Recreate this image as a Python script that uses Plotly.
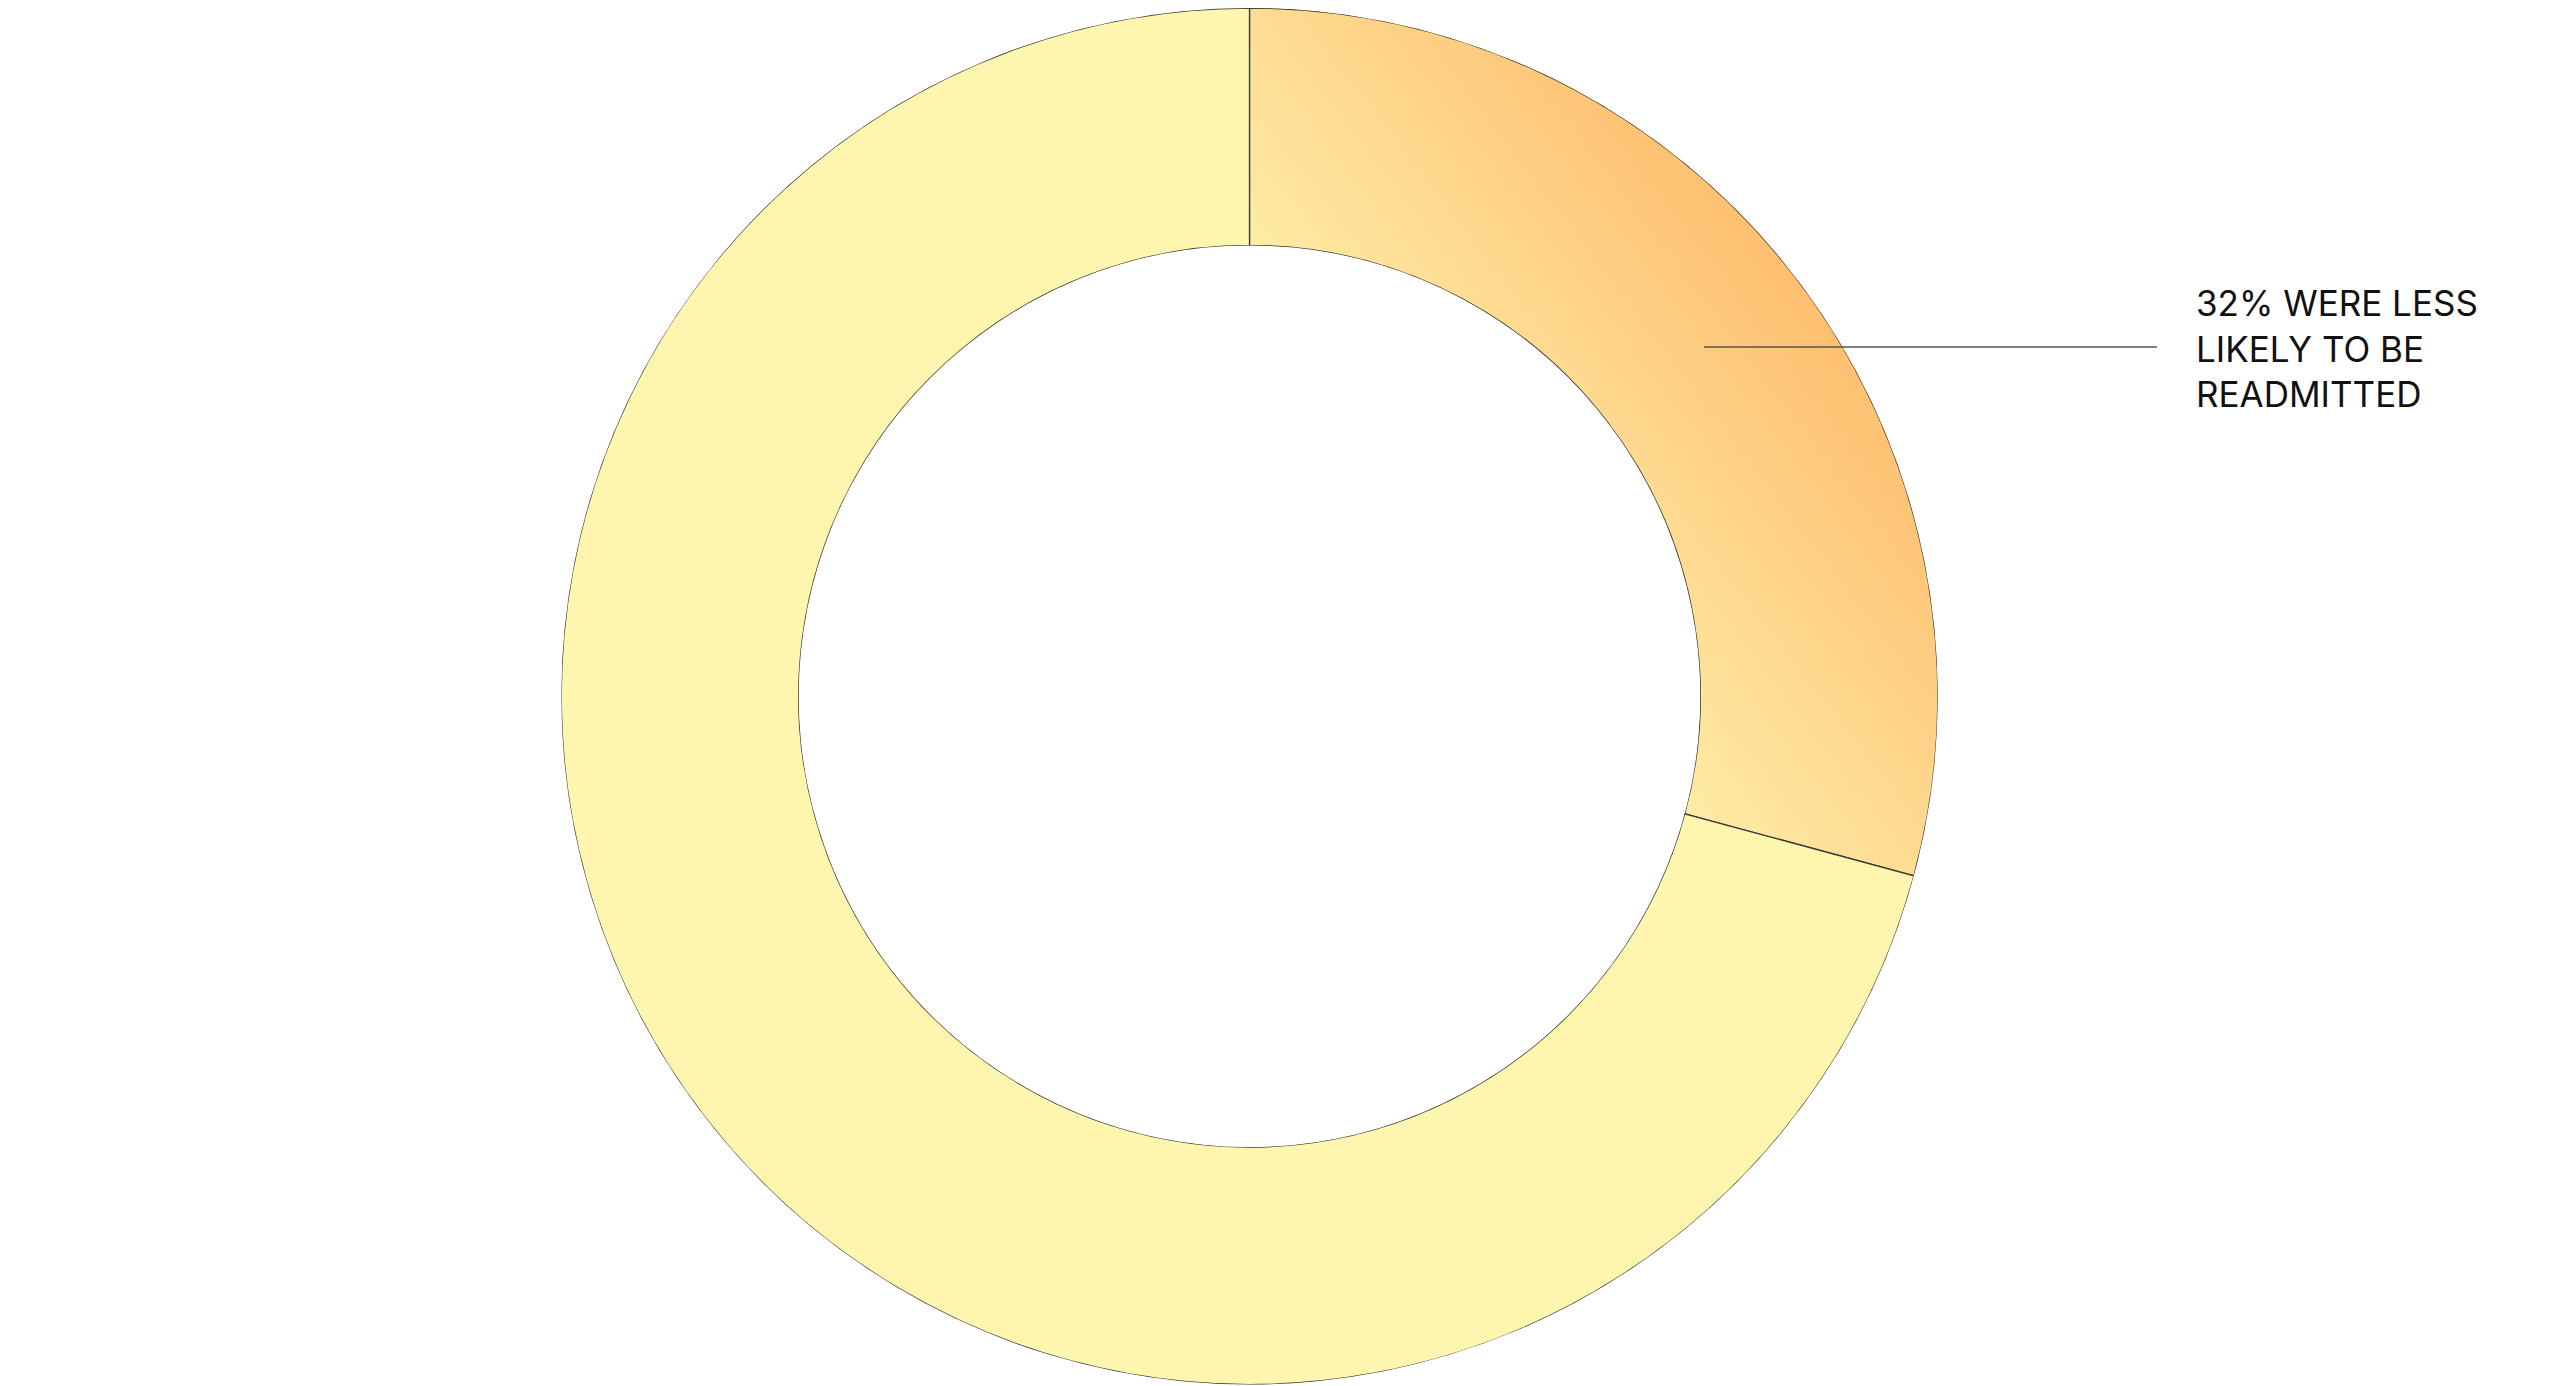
import numpy as np
import plotly.graph_objects as go

# data
categories = ["Less likely to be readmitted", "Other"]
shares = [29.2, 70.8]          # share of the ring each slice covers
label_lines = ["32% WERE LESS", "LIKELY TO BE", "READMITTED"]

W, H = 2560, 1386
OFF = 8                        # page body margin the figure sits behind
HOLE = 0.655
cx_px = 1249.5 - OFF
ring_h = 1376.5                # ring diameter in px
base_yellow = "#FEF5AF"
edge = "#3a3a3a"

# angular extent of each slice (degrees, clockwise from 12 o'clock)
total = sum(shares)
widths = [s / total * 360 for s in shares]
starts = np.concatenate([[0], np.cumsum(widths)[:-1]])
centers = starts + np.array(widths) / 2

# gradient fill for the first slice: many small cells coloured along the slice bisector
n_t, n_r = 120, 30
th_edges = np.linspace(starts[0], starts[0] + widths[0], n_t + 1)
r_edges = np.linspace(0, 1, n_r + 1)
th_c = (th_edges[:-1] + th_edges[1:]) / 2
r_c = (r_edges[:-1] + r_edges[1:]) / 2
TH, RR = np.meshgrid(th_c, r_c)
TH, RR = TH.ravel(), RR.ravel()
rad = HOLE + (1 - HOLE) * RR
ang = np.deg2rad(90 - TH)                      # math angle
bis = np.deg2rad(90 - centers[0])
s = rad * np.cos(ang - bis)
s_min = HOLE * np.cos(np.deg2rad(widths[0] / 2))
t = np.clip((s - s_min) / (1 - s_min), 0, 1)
c0 = np.array([254, 236, 166])
c1 = np.array([254, 191, 112])
cols = [f"rgb({int(a)},{int(b)},{int(c)})" for a, b, c in (c0 + (c1 - c0) * t[:, None]).round()]

fig = go.Figure()
fig.add_trace(go.Barpolar(
    theta=TH, r=np.full(TH.shape, 1 / n_r), base=RR - 0.5 / n_r,
    width=np.full(TH.shape, widths[0] / n_t),
    marker=dict(color=cols, line=dict(color=cols, width=0.8)),
    hoverinfo="skip", showlegend=False,
))
fig.add_trace(go.Barpolar(
    theta=centers, r=[1, 1], width=widths, name="",
    text=categories,
    marker=dict(color=["rgba(0,0,0,0)", base_yellow], line=dict(color=edge, width=1.3)),
    showlegend=False,
))

R = ring_h / 2
fig.update_layout(
    width=W, height=H,
    margin=dict(l=0, r=0, t=0, b=0),
    paper_bgcolor="white",
    polar=dict(
        domain=dict(x=[(cx_px - R) / W, (cx_px + R) / W], y=[1 - ring_h / H, 1]),
        hole=HOLE,
        bgcolor="rgba(0,0,0,0)",
        radialaxis=dict(visible=False, range=[0, 1]),
        angularaxis=dict(visible=False, rotation=90, direction="clockwise"),
    ),
)

# leader line and label
ly = 1 - (347 - OFF) / H
fig.add_shape(type="line", xref="paper", yref="paper",
              x0=(1704 - OFF) / W, x1=(2157 - OFF) / W, y0=ly, y1=ly,
              line=dict(color="#555555", width=1.5))
fig.add_annotation(xref="paper", yref="paper", x=(2194 - OFF) / W, y=1 - (348 - OFF) / H,
                   xanchor="left", yanchor="middle", align="left", showarrow=False,
                   text="<br>".join(label_lines),
                   font=dict(family="Inter", size=35, color="#111111"))

fig.write_html("out.html")
